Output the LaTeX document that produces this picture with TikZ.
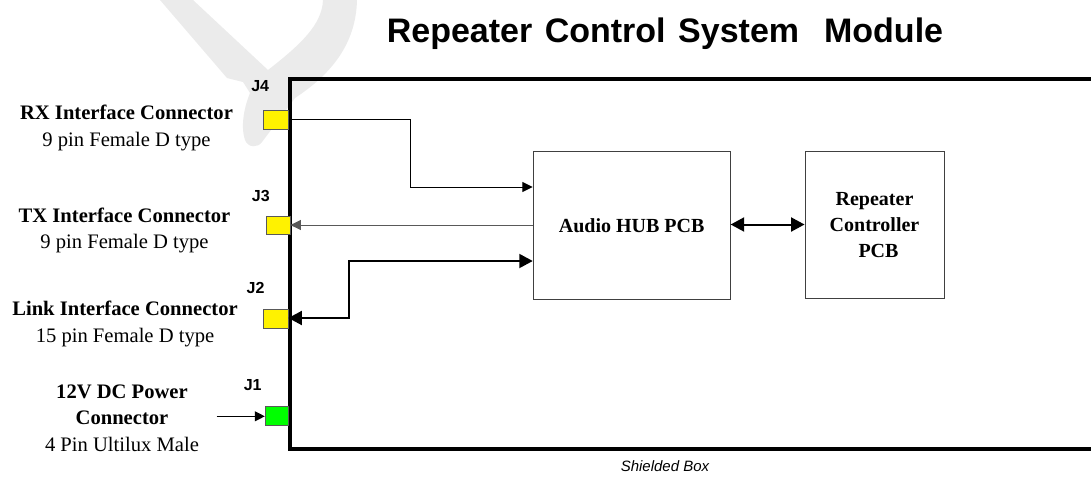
\documentclass[tikz,border=0pt]{standalone}
\usepackage{fontspec}
\setmainfont{Liberation Serif}
\setsansfont{Liberation Sans}
\usetikzlibrary{arrows.meta}
\tikzset{
  wm/.style={fill=black!8},
  conn/.style={draw=black!65, line width=0.8, minimum width=25, minimum height=19, inner sep=0},
  pcb/.style={draw=black!75, line width=0.9, inner sep=0, font=\bfseries\fontsize{20}{26.2}\selectfont},
  jlab/.style={font=\sffamily\bfseries\fontsize{16}{16}\selectfont, inner sep=0},
  lab/.style={align=center, anchor=north, inner sep=0, font=\fontsize{20.6}{26.5}\selectfont},
  thinline/.style={draw=black!65, line width=1},
  rxline/.style={draw=black, line width=1},
  thickline/.style={draw=black, line width=2},
  stip/.tip={Triangle[length=10.5,width=10]},
  btip/.tip={Triangle[length=13.5,width=14]},
}
\begin{document}
\begin{tikzpicture}[x=1pt,y=-1pt]
\useasboundingbox (0,0) rectangle (1091,480);
% watermark fragment
\fill[wm] (160,0) -- (193,0) -- (268,70) .. controls (300,45) and (322,25) .. (323,0) -- (357,0)
  .. controls (356,45) and (330,75) .. (295,98) -- (262,142) .. controls (258,148) and (248,148) .. (245,140)
  .. controls (240,125) and (245,105) .. (250,93) -- (243,82) -- (227,78) -- cycle;

% title
\node[font=\sffamily\bfseries\fontsize{34}{34}\selectfont, inner sep=0] (title) at (665,33.5) {Repeater\hspace{12.5pt}Control\hspace{12.5pt}System\hspace{25pt}Module};

% shielded box (open on the right)
\coordinate (boxtr) at (1096,78.5);
\coordinate (boxtl) at (290,78.5);
\coordinate (boxbl) at (290,448.7);
\coordinate (boxbr) at (1096,448.7);
\draw[line width=4] (boxtr) -- (boxtl) -- (boxbl) -- (boxbr);
\node[font=\sffamily\itshape\fontsize{15}{15}\selectfont, inner sep=0] (sb) at (665,466) {Shielded Box};

% connectors
\node[conn, fill=yellow] (J4) at (275.8,119.7) {};
\node[conn, fill=yellow, minimum width=24, minimum height=18] (J3) at (278,225) {};
\node[conn, fill=yellow] (J2) at (275.5,318.8) {};
\node[conn, fill=green, minimum width=23] (J1) at (276.7,416.3) {};

\node[jlab] (J4l) at (260.2,85.8) {J4};
\node[jlab] (J3l) at (260.8,195.5) {J3};
\node[jlab] (J2l) at (255.5,287.5) {J2};
\node[jlab] (J1l) at (252.7,385.2) {J1};

% labels
\node[lab] (rxlab) at (126.5,105) {\textbf{RX Interface Connector}\\9 pin Female D type};
\node[lab] (txlab) at (124.5,207.7) {\textbf{TX Interface Connector}\\9 pin Female D type};
\node[lab] (lklab) at (125,301) {\textbf{Link Interface Connector}\\15 pin Female D type};
\node[lab] (pwlab) at (122,384.3) {\textbf{12V DC Power}\\\textbf{Connector}\\4 Pin Ultilux Male};

% PCBs
\node[pcb, minimum width=197, minimum height=148] (hub) at (631.7,225.5) {Audio HUB PCB};
\node[pcb, minimum width=139, minimum height=147, align=center] (rep) at (874.5,225) {Repeater\\Controller\\\hspace*{8pt}PCB};

% links
\draw[rxline, -stip] (J4.east) -| (410.5,187) -- (hub.west |- 0,187);
\draw[thinline, -stip] (hub.west |- 0,225) -- (J3.east);
\draw[thickline, btip-btip] (J2.east |- 0,318) -| (349,261) -- (hub.west |- 0,261);
\draw[thickline, btip-btip] (hub.east |- 0,224.5) -- (rep.west |- 0,224.5);
\coordinate (pwr) at (216.7,416.3);
\draw[line width=1.2, -{Triangle[length=10,width=10]}] (pwr) -- (J1.west);
\end{tikzpicture}
\end{document}
